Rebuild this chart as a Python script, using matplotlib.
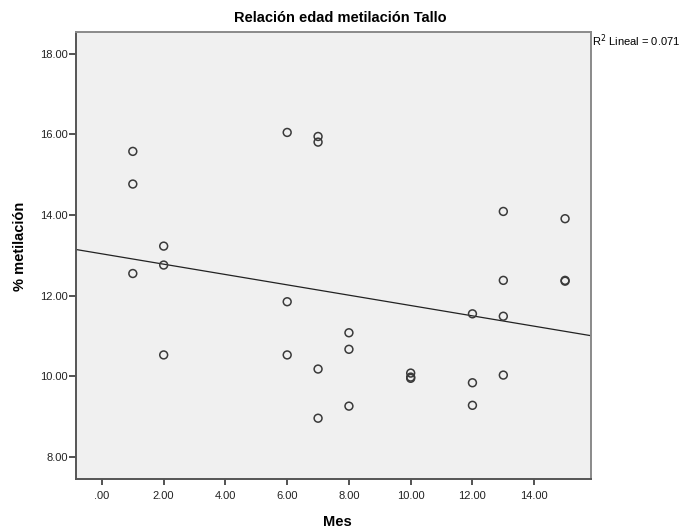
import numpy as np
import matplotlib
matplotlib.use('Agg')
import matplotlib.pyplot as plt
from matplotlib.ticker import FuncFormatter

plt.rcParams['font.family'] = ['Liberation Sans', 'DejaVu Sans']

# data (Mes vs % metilación)
mes = [1, 1, 1, 2, 2, 2, 6, 6, 6, 7, 7, 7, 7, 8, 8, 8,
       10, 10, 10, 12, 12, 12, 13, 13, 13, 13, 15, 15, 15]
metilacion = [15.58, 14.77, 12.55, 13.23, 12.76, 10.53, 16.05, 11.85, 10.53,
              15.95, 15.81, 10.18, 8.96, 11.08, 10.67, 9.26,
              10.08, 9.98, 9.95, 11.55, 9.84, 9.28,
              14.09, 12.38, 11.49, 10.03, 13.91, 12.38, 12.36]
x_ticks = [0, 2, 4, 6, 8, 10, 12, 14]
y_ticks = [8, 10, 12, 14, 16, 18]
r2_label = 'R$^2$ Lineal = 0.071'

fig = plt.figure(figsize=(6.81, 5.29), dpi=100)
ax = fig.add_axes([0.1116, 0.0936, 0.7558, 0.845])
ax.set_facecolor('#f0f0f0')

ax.scatter(mes, metilacion, s=32, facecolors='none', edgecolors='#3a3a3a', linewidths=1.1, zorder=3)

# linear fit line across the whole axis
xlim = (-0.84, 15.83)
slope, intercept = np.polyfit(mes, metilacion, 1)
xs = np.array(xlim)
ax.plot(xs, intercept + slope * xs, color='#222222', lw=0.9, zorder=2)

ax.set_xlim(xlim)
ax.set_ylim(7.44, 18.53)
ax.set_xticks(x_ticks)
ax.set_yticks(y_ticks)

def spss_fmt(v, pos):
    s = f'{v:.2f}'
    return s[1:] if s.startswith('0') else s

ax.xaxis.set_major_formatter(FuncFormatter(spss_fmt))
ax.yaxis.set_major_formatter(FuncFormatter(spss_fmt))
ax.tick_params(axis='y', direction='out', length=5, width=1.3, color='#444444', pad=1, labelsize=8, labelcolor='#222222')
ax.tick_params(axis='x', direction='out', length=4, width=1.3, color='#444444', pad=4, labelsize=8, labelcolor='#222222')
for sp in ax.spines.values():
    sp.set_color('#8a8a8a')
    sp.set_linewidth(1.4)
ax.spines['left'].set_color('#555555')
ax.spines['bottom'].set_color('#555555')

fig.text(0.5, 0.966, 'Relación edad metilación Tallo', ha='center', va='center', fontsize=10.5, fontweight='bold')
fig.text(0.495, 0.014, 'Mes', ha='center', va='center', fontsize=10.5, fontweight='bold')
fig.text(0.03, 0.535, '% metilación', ha='center', va='center', rotation=90, fontsize=10.5, fontweight='bold')
fig.text(0.869, 0.938, r2_label, ha='left', va='top', fontsize=8)

fig.savefig('out.png', dpi=100)
